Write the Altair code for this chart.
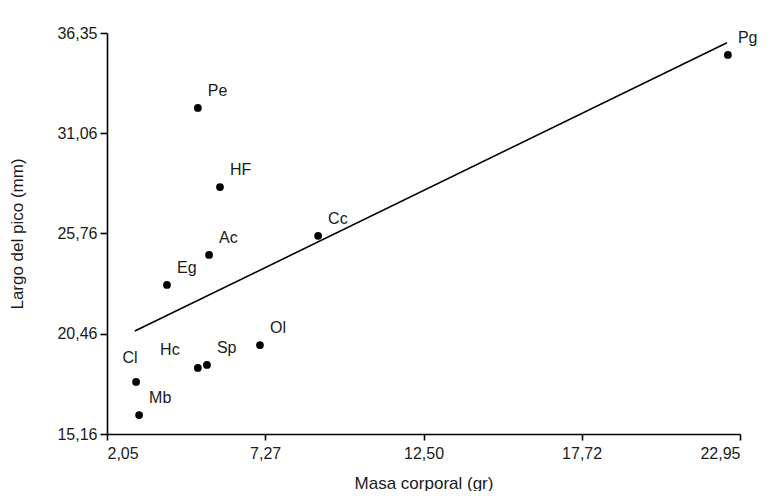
import altair as alt
import pandas as pd

species = ["Pe", "HF", "Ac", "Eg", "Cc", "Pg", "Ol", "Sp", "Hc", "Cl", "Mb"]
masa = [5.05, 5.78, 5.42, 4.03, 9.02, 22.55, 7.10, 5.35, 5.05, 3.01, 3.11]
pico = [32.39, 28.21, 24.62, 23.04, 25.63, 35.19, 19.86, 18.81, 18.65, 17.91, 16.16]

fit_x = [2.97, 22.52]
fit_y = [20.60, 35.83]

x_ticks = [2.05, 7.27, 12.50, 17.72, 22.95]
y_ticks = [15.16, 20.46, 25.76, 31.06, 36.35]

FONT = "Liberation Sans"
TXT = "#1a1a1a"

pts = pd.DataFrame({"sp": species, "masa": masa, "pico": pico})
fit = pd.DataFrame({"masa": fit_x, "pico": fit_y})

label_expr = "replace(format(datum.value, '.2f'), '.', ',')"

xenc = alt.X(
    "masa:Q",
    scale=alt.Scale(domain=[x_ticks[0], x_ticks[-1]], nice=False, zero=False),
    axis=alt.Axis(values=x_ticks, labelExpr=label_expr, title="Masa corporal (gr)",
                  grid=False, tickSize=6, labelPadding=5, titlePadding=14),
)
yenc = alt.Y(
    "pico:Q",
    scale=alt.Scale(domain=[y_ticks[0], y_ticks[-1]], nice=False, zero=False),
    axis=alt.Axis(values=y_ticks, labelExpr=label_expr, title="Largo del pico (mm)",
                  grid=False, tickSize=7, labelPadding=3, titlePadding=30),
)

base = alt.Chart(pts)

points = base.mark_circle(size=60, color="black", opacity=1).encode(x=xenc, y=yenc)

line = alt.Chart(fit).mark_line(color="black", strokeWidth=1.6).encode(x="masa:Q", y="pico:Q")

text_style = dict(font=FONT, fontSize=16, color=TXT, baseline="middle")

lbl_default = base.transform_filter(
    "datum.sp != 'Hc' && datum.sp != 'Cl'"
).mark_text(align="left", dx=10, dy=-17, **text_style).encode(
    x="masa:Q", y="pico:Q", text="sp:N")

lbl_hc = base.transform_filter("datum.sp == 'Hc'").mark_text(
    align="center", dx=-28, dy=-18, **text_style
).encode(x="masa:Q", y="pico:Q", text="sp:N")

lbl_cl = base.transform_filter("datum.sp == 'Cl'").mark_text(
    align="center", dx=-6, dy=-24, **text_style
).encode(x="masa:Q", y="pico:Q", text="sp:N")

chart = alt.layer(line, points, lbl_default, lbl_hc, lbl_cl).properties(
    width=633, height=401,
    autosize=alt.AutoSizeParams(type="none"),
    padding={"left": 99, "top": 25, "right": 30, "bottom": 57},
).configure_view(stroke=None).configure_axis(
    domainColor="black", domainWidth=1.6, tickColor="black", tickWidth=1.6,
    labelFont=FONT, labelFontSize=16, labelColor=TXT,
    titleFont=FONT, titleFontSize=17, titleFontWeight="normal", titleColor=TXT,
)

chart.save("out.html", embed_options={"renderer": "svg", "actions": False})
